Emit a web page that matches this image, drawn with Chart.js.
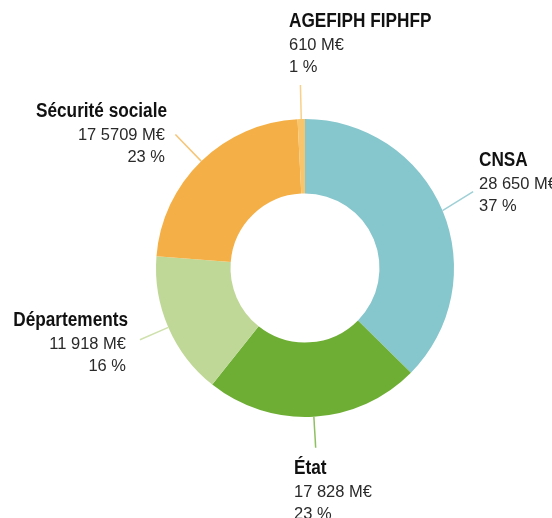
<!DOCTYPE html>
<html>
<head>
<meta charset="utf-8">
<script src="https://cdn.jsdelivr.net/npm/chart.js@4.4.1/dist/chart.umd.min.js"></script>
<style>
  html, body { margin: 0; padding: 0; background: #fff; }
  #wrap { width: 552px; height: 518px; position: relative; }
</style>
</head>
<body>
<div id="wrap"><canvas id="pie"></canvas></div>
<script>
const categories = ['CNSA', 'État', 'Départements', 'Sécurité sociale', 'AGEFIPH FIPHFP'];
const amounts = [28650, 17828, 11918, 17570.9, 610];
const amountLabels = ['28 650 M€', '17 828 M€', '11 918 M€', '17 5709 M€', '610 M€'];
const percentLabels = ['37 %', '23 %', '16 %', '23 %', '1 %'];
const colors = ['#86c6cd', '#6eae35', '#c0d897', '#f4b047', '#f8c46c'];
const lineColors = ['#9fd0d6', '#8fc060', '#cfe1ac', '#f6c577', '#f9d08a'];

// label placement: text anchor, alignment, leader length and angle tweak (deg)
const labelLayout = [
    { x: 479, y: 166, align: 'left', len: 36, tweak: -9 },
    { x: 294, y: 474, align: 'left', len: 31, tweak: 0 },
    { x: 128, y: 326, align: 'right', len: 31, tweak: 0 },
    { x: 167, y: 117, align: 'right', len: 37, tweak: 0 },
    { x: 289, y: 27, align: 'left', len: 34, tweak: 0 }
];

// condensed text: the original uses a narrow face, so squeeze horizontally
function squeezedText(ctx, text, x, y, sx) {
    ctx.save();
    ctx.translate(x, y);
    ctx.scale(sx, 1);
    ctx.fillText(text, 0, 0);
    ctx.restore();
}

const labelPlugin = {
    id: 'labelPlugin',
    afterDraw(chart) {
        const ctx = chart.ctx;
        const meta = chart.getDatasetMeta(0);
        ctx.save();
        meta.data.forEach((arc, i) => {
            const p = arc.getProps(['x', 'y', 'startAngle', 'endAngle', 'outerRadius'], true);
            const mid = (p.startAngle + p.endAngle) / 2;
            const x0 = p.x + Math.cos(mid) * p.outerRadius;
            const y0 = p.y + Math.sin(mid) * p.outerRadius;
            const a2 = mid + labelLayout[i].tweak * Math.PI / 180;
            const x1 = x0 + Math.cos(a2) * labelLayout[i].len;
            const y1 = y0 + Math.sin(a2) * labelLayout[i].len;
            ctx.strokeStyle = lineColors[i];
            ctx.lineWidth = 1.5;
            ctx.beginPath();
            ctx.moveTo(x0, y0);
            ctx.lineTo(x1, y1);
            ctx.stroke();

            const l = labelLayout[i];
            ctx.textAlign = l.align;
            ctx.textBaseline = 'alphabetic';
            ctx.fillStyle = '#111';
            ctx.font = 'bold 20px "Liberation Sans", sans-serif';
            squeezedText(ctx, categories[i], l.x, l.y, 0.86);
            ctx.fillStyle = '#2a2a2a';
            ctx.font = '17px "Liberation Sans", sans-serif';
            const dx = l.align === 'right' ? -2 : 0;
            squeezedText(ctx, amountLabels[i], l.x + dx, l.y + 23, 0.97);
            squeezedText(ctx, percentLabels[i], l.x + dx, l.y + 45, 0.97);
        });
        ctx.restore();
    }
};

new Chart(document.getElementById('pie'), {
    type: 'doughnut',
    data: {
        labels: categories,
        datasets: [{
            data: amounts,
            backgroundColor: colors,
            borderWidth: 0
        }]
    },
    options: {
        responsive: true, maintainAspectRatio: false,
        animation: false,
        cutout: '50%',
        layout: { padding: { left: 156, right: 98, top: 119, bottom: 101 } },
        plugins: { legend: { display: false }, tooltip: { enabled: false } }
    },
    plugins: [labelPlugin]
});
</script>
</body>
</html>
